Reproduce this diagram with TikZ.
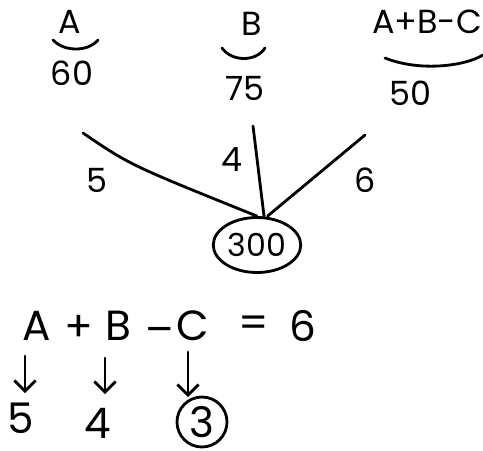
\documentclass[tikz,border=0pt]{standalone}
\usepackage{fontspec}
\setmainfont{Poppins}
\usetikzlibrary{shapes.geometric,arrows.meta,positioning,calc}

\begin{document}
\begin{tikzpicture}[
            x=0.02cm, y=-0.02cm,
            ink/.style={line width=1.6pt, line cap=round},
            lbl/.style={inner sep=1pt, font=\fontsize{19}{21}\selectfont},
            big/.style={inner sep=1pt, font=\fontsize{24}{26}\selectfont},
            total/.style={ellipse, draw, ink, minimum width=1.75cm, minimum height=1.1cm, inner sep=0pt, font=\fontsize{18}{20}\selectfont},
            arrow/.style={ink, -{Straight Barb[length=6pt, width=12pt, line width=1.6pt]}}
        ]
            \useasboundingbox (0,0) rectangle (483,450);

            % Nodes - top row
            \node[lbl] (ta) at (70,22) {A};
            \node[lbl] (tb) at (252,24) {B};
            \node[lbl] (tabc) at (427,22) {A+B-C};
            \node[lbl] (na) at (72,73) {60};
            \node[lbl] (nb) at (245,88) {75};
            \node[lbl] (nabc) at (410,93) {50};

            % Braces
            \draw[ink] (53,40) .. controls (64,52) and (88,52) .. (98,40);
            \draw[ink] (222,48) .. controls (232,62) and (256,62) .. (265,48);
            \draw[ink] (385,58) .. controls (420,72) and (465,66) .. (483,55);

            % Centre
            \node[total] (sum) at (257,245) {300};
            \coordinate (la) at (83,133);
            \coordinate (lb) at (253,126);
            \coordinate (lc) at (365,135);
            \draw[ink] (la) .. controls (130,165) .. (sum.north);
            \draw[ink] (lb) -- ([xshift=4]sum.north);
            \draw[ink] (lc) -- ([xshift=6]sum.north);
            \node[lbl] (w5) at (97,180) {5};
            \node[lbl] (w4) at (232,160) {4};
            \node[lbl] (w6) at (365,180) {6};

            % Equation
            \node[big] (ea) at (37,326) {A};
            \node[big] (ep) at (79,328) {+};
            \node[big] (eb) at (118,326) {B};
            \node[big] (em) at (160,336) {–};
            \node[big] (ec) at (193,326) {C};
            \node[big] (eq) at (254,327) {=};
            \node[big] (e6) at (303,326) {6};

            % Values
            \node[big] (v5) at (21,418) {5};
            \node[big] (v4) at (98,423) {4};
            \node[big, circle, draw, ink, inner sep=0pt, minimum size=1cm] (v3) at (202,422) {3};
            \coordinate (a5) at (25,356);
            \coordinate (a4) at (105,358);
            \coordinate (a3) at (188,352);
            \draw[arrow] (a5) -- (25,393);
            \draw[arrow] (a4) -- (105,394);
            \draw[arrow] (a3) -- (188,397);
        \end{tikzpicture}
\end{document}
